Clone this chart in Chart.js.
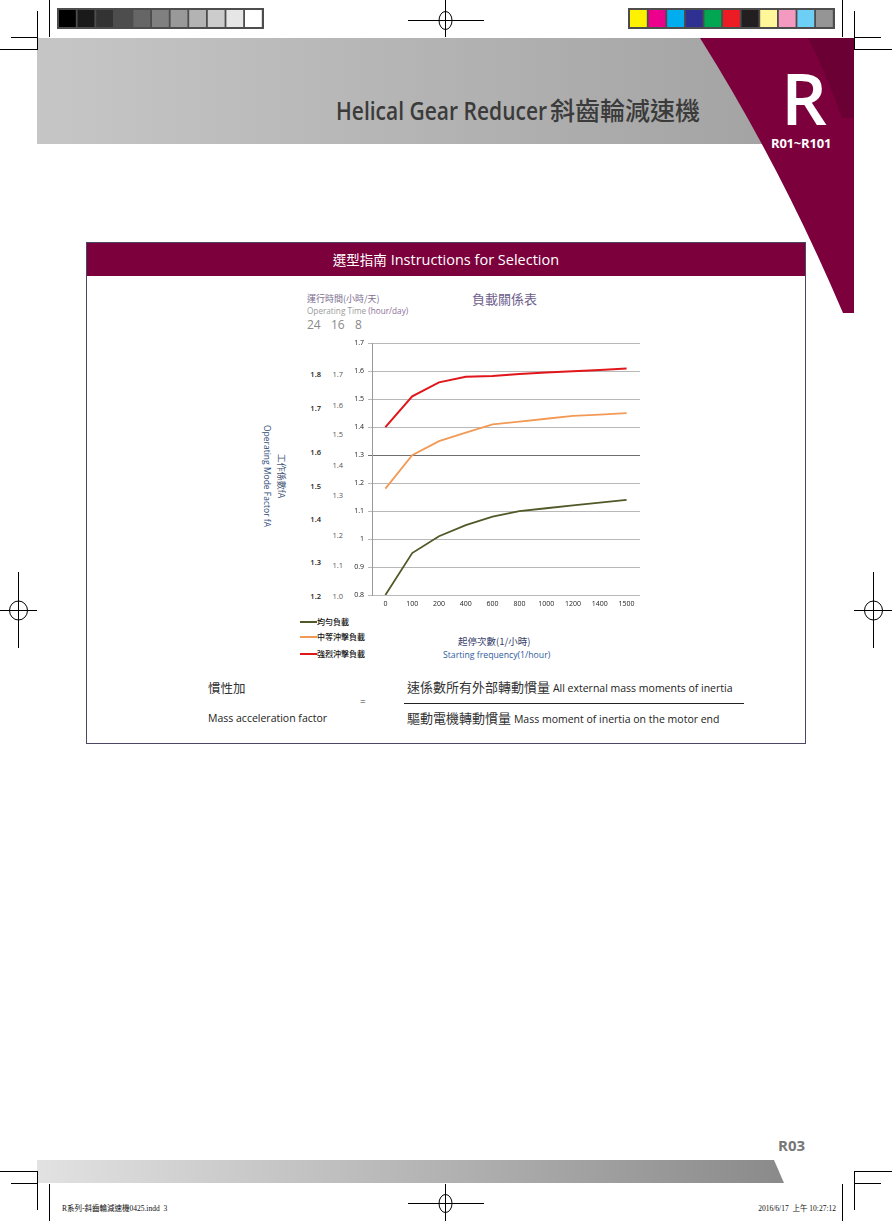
<!DOCTYPE html>
<html>
<head>
<meta charset="utf-8">
<script src="https://cdn.jsdelivr.net/npm/chart.js@4/dist/chart.umd.min.js"></script>
<style>
  @font-face{
    font-family:"BigR";
    src: local("Open Sans SemiBold"), local("OpenSans-SemiBold"), local("Open Sans"), local("OpenSans-Regular"), local("Open Sans Regular");
    font-weight: 600;
    ascent-override: 75%;
    descent-override: 0%;
    line-gap-override: 0%;
  }
  html,body{margin:0;padding:0;background:#fff;}
  #page{position:relative;width:892px;height:1221px;overflow:hidden;font-family:"Open Sans","Noto Sans CJK TC",sans-serif;}
  .t{position:absolute;white-space:nowrap;}
  svg{position:absolute;left:0;top:0;}
  #chartWrap{position:absolute;left:340px;top:335px;width:310px;height:280px;}
</style>
</head>
<body>
<div id="page">
<svg width="892" height="1221" viewBox="0 0 892 1221">
  <defs>
    <linearGradient id="hdr" x1="0" x2="1" y1="0" y2="0">
      <stop offset="0" stop-color="#c6c6c6"/>
      <stop offset="1" stop-color="#a2a2a2"/>
    </linearGradient>
    <linearGradient id="ftr" x1="0" x2="1" y1="0" y2="0">
      <stop offset="0" stop-color="#e2e2e2"/>
      <stop offset="1" stop-color="#8a8a8a"/>
    </linearGradient>
  </defs>
  <!-- header band -->
  <rect x="37" y="38" width="760" height="106" fill="url(#hdr)"/>
  <path d="M700,38 L854,38 L854,313 L843,313 Q780,165 700,38 Z" fill="#7b003c"/>
  <path d="M808,38 L854,38 L854,118 L842,118 Q826,72 808,38 Z" fill="#6a0033"/>
  <!-- footer band -->
  <path d="M37,1160 L774,1160 L784,1183 L37,1183 Z" fill="url(#ftr)"/>
  <!-- crop marks -->
  <g stroke="#000" stroke-width="1" fill="none">
    <line x1="37.5" y1="11" x2="37.5" y2="50"/><line x1="11" y1="37.5" x2="37" y2="37.5"/>
    <line x1="49.5" y1="0" x2="49.5" y2="37"/><line x1="0" y1="49.5" x2="37" y2="49.5"/>
    <line x1="854.5" y1="11" x2="854.5" y2="50"/><line x1="855" y1="37.5" x2="881" y2="37.5"/>
    <line x1="842.5" y1="0" x2="842.5" y2="37"/><line x1="855" y1="49.5" x2="892" y2="49.5"/>
    <line x1="37.5" y1="1171" x2="37.5" y2="1210"/><line x1="11" y1="1183.5" x2="37" y2="1183.5"/>
    <line x1="49.5" y1="1184" x2="49.5" y2="1221"/><line x1="0" y1="1171.5" x2="37" y2="1171.5"/>
    <line x1="854.5" y1="1171" x2="854.5" y2="1210"/><line x1="855" y1="1183.5" x2="881" y2="1183.5"/>
    <line x1="842.5" y1="1184" x2="842.5" y2="1221"/><line x1="855" y1="1171.5" x2="892" y2="1171.5"/>
    <!-- registration targets -->
    <line x1="408" y1="20.5" x2="484" y2="20.5"/><line x1="445.5" y1="0" x2="445.5" y2="37"/>
    <ellipse cx="445.5" cy="20.5" rx="6.5" ry="9"/>
    <line x1="408" y1="1203.5" x2="484" y2="1203.5"/><line x1="445.5" y1="1184" x2="445.5" y2="1221"/>
    <ellipse cx="445.5" cy="1203.5" rx="6.5" ry="9"/>
    <line x1="0" y1="610.5" x2="37" y2="610.5"/><line x1="18.5" y1="572" x2="18.5" y2="648"/>
    <ellipse cx="18.5" cy="610.5" rx="9" ry="9.5"/>
    <line x1="854" y1="610.5" x2="892" y2="610.5"/><line x1="873.5" y1="572" x2="873.5" y2="648"/>
    <ellipse cx="873.5" cy="610.5" rx="9" ry="9.5"/>
  </g>
  <!-- gray scale bar -->
  <rect x="57" y="8" width="207" height="21" fill="#4d4d4d"/>
  <g id="grays"></g>
  <rect x="628" y="8" width="207" height="21" fill="#4d4d4d"/>
  <g id="colors"></g>
  <!-- box -->
  <rect x="86.5" y="242.5" width="719" height="501" fill="#fff" stroke="#4d4766" stroke-width="1"/>
  <rect x="87" y="243" width="718" height="33" fill="#7b003c"/>
  <line x1="404" y1="703.5" x2="744" y2="703.5" stroke="#222" stroke-width="1"/>
</svg>

<!-- header texts -->
<div class="t" style="left:336px;top:94px;font-size:25px;line-height:30px;color:#3b3b3b;font-weight:600;">
  <span style="display:inline-block;transform:scaleX(0.84);transform-origin:left center;width:214px;">Helical Gear Reducer</span><span style="font-family:'Noto Sans CJK TC';font-weight:500;font-size:25px;">斜齒輪減速機</span>
</div>
<div class="t" style="left:781px;top:69px;font-size:72px;line-height:58px;color:#fff;font-weight:600;font-family:'BigR','Open Sans',sans-serif;">R</div>
<div class="t" style="left:771px;top:135px;font-size:13px;line-height:17px;color:#fff;font-weight:700;letter-spacing:-0.2px;">R01~R101</div>

<!-- box title -->
<div class="t" style="left:87px;width:718px;top:249px;text-align:center;font-size:14.5px;line-height:20px;color:#fff;"><span style="font-family:'Noto Sans CJK TC';font-size:13.5px;">選型指南</span> Instructions for Selection</div>

<!-- chart annotations -->
<div class="t" style="left:307px;top:292px;font-size:9px;line-height:14px;color:#7d6e8f;font-family:'Noto Sans CJK TC';">運行時間(小時/天)</div>
<div class="t" style="left:307px;top:305px;font-size:8.2px;line-height:12px;color:#9a9a9a;">Operating Time <span style="color:#8a6f98;">(hour/day)</span></div>
<div class="t" style="left:307px;top:317px;font-size:12px;line-height:16px;color:#8a8a8a;word-spacing:2px;">24&nbsp; 16&nbsp; 8</div>
<div class="t" style="left:472px;top:290px;font-size:13px;line-height:18px;color:#6d5e8c;font-family:'Noto Sans CJK TC';">負載關係表</div>

<div id="colA"></div>
<div id="colB"></div>

<div class="t" style="left:267px;top:476px;transform:translate(-50%,-50%) rotate(90deg);font-size:8.5px;line-height:11px;color:#2f4d7a;">Operating Mode Factor fA</div>
<div class="t" style="left:281px;top:476px;transform:translate(-50%,-50%) rotate(90deg);font-size:9px;line-height:11px;color:#4a5a7a;font-family:'Noto Sans CJK TC';">工作係數fA</div>

<div id="legend"></div>

<div class="t" style="left:458px;top:635px;font-size:9.5px;line-height:13px;color:#35406a;font-family:'Noto Sans CJK TC';">起停次數(1/小時)</div>
<div class="t" style="left:443px;top:649px;font-size:8.7px;line-height:12px;color:#2e5c9c;">Starting frequency(1/hour)</div>

<!-- formula -->
<div class="t" style="left:208px;top:679px;font-size:12.5px;line-height:18px;color:#333;font-family:'Noto Sans CJK TC';">慣性加</div>
<div class="t" style="left:208px;top:711px;font-size:10.5px;line-height:14px;color:#222;">Mass acceleration factor</div>
<div class="t" style="left:360px;top:694px;font-size:10px;line-height:14px;color:#333;">=</div>
<div class="t" style="left:407px;top:678px;font-size:13px;line-height:18px;color:#333;font-family:'Noto Sans CJK TC';">速係數所有外部轉動慣量 <span style="font-family:'Open Sans';font-size:10.5px;color:#222;">All external mass moments of inertia</span></div>
<div class="t" style="left:407px;top:709px;font-size:13px;line-height:18px;color:#333;font-family:'Noto Sans CJK TC';">驅動電機轉動慣量 <span style="font-family:'Open Sans';font-size:10.5px;color:#222;">Mass moment of inertia on the motor end</span></div>

<!-- footer -->
<div class="t" style="left:778px;top:1136px;font-size:15px;line-height:18px;color:#777;font-weight:700;">R03</div>
<div class="t" style="left:62px;top:1204px;font-size:7.5px;line-height:10px;color:#111;font-family:'Liberation Serif','Noto Sans CJK TC';">R系列-斜齒輪減速機0425.indd&nbsp;&nbsp;3</div>
<div class="t" style="right:56px;top:1204px;font-size:7.5px;line-height:10px;color:#111;font-family:'Liberation Serif','Noto Sans CJK TC';">2016/6/17&nbsp; 上午 10:27:12</div>

<div id="chartWrap"><canvas id="c" width="310" height="280"></canvas></div>
</div>

<script>
// ---------- data ----------
const frequencies = ['0','100','200','400','600','800','1000','1200','1400','1500'];
const uniformLoad   = [0.80, 0.95, 1.01, 1.05, 1.08, 1.10, 1.11, 1.12, 1.13, 1.14];
const moderateShock = [1.18, 1.30, 1.35, 1.38, 1.41, 1.42, 1.43, 1.44, 1.445, 1.45];
const heavyShock    = [1.40, 1.51, 1.56, 1.58, 1.583, 1.59, 1.595, 1.60, 1.604, 1.61];
const yTickLabels = ['0.8','0.9','1','1.1','1.2','1.3','1.4','1.5','1.6','1.7'];
const seriesNames = ['均勻負載','中等沖擊負載','強烈沖擊負載'];
const hours24Labels = ['1.8','1.7','1.6','1.5','1.4','1.3','1.2'];
const hours16Labels = ['1.7','1.6','1.5','1.4','1.3','1.2','1.1','1.0'];
const grayLevels = ['#000000','#1a1a1a','#333333','#4d4d4d','#666666','#808080','#999999','#b3b3b3','#cccccc','#e6e6e6','#ffffff'];
const processColors = ['#fff200','#ec008c','#00aeef','#2e3192','#00a651','#ed1c24','#231f20','#fff799','#f49ac1','#6dcff6','#959595'];

// ---------- layout (positions kept separately) ----------
const colAY = [374,408,452,486,519,562,596];
const colBY = [374,405,434,465,495,535,565,596];
const seriesColors = ['#4f5a28','#f29a55','#e0161b'];
const legendY = [622,637,654];

function fillBar(id, x0, cols){
  const g = document.getElementById(id);
  cols.forEach((c,i)=>{
    const r = document.createElementNS('http://www.w3.org/2000/svg','rect');
    r.setAttribute('x', x0 + 2 + i*18.6); r.setAttribute('y', 10);
    r.setAttribute('width', 16.8); r.setAttribute('height', 17);
    r.setAttribute('fill', c); g.appendChild(r);
  });
}
fillBar('grays', 57, grayLevels);
fillBar('colors', 628, processColors);

function addCol(id, labels, ys, right, color, weight){
  const el = document.getElementById(id);
  labels.forEach((s,i)=>{
    const d = document.createElement('div');
    d.className='t';
    d.style.cssText = `left:${right-20}px;width:20px;text-align:right;top:${ys[i]-5}px;font-size:7.5px;line-height:10px;color:${color};font-weight:${weight};`;
    d.textContent = s; el.appendChild(d);
  });
}
addCol('colA', hours24Labels, colAY, 321, '#222', 600);
addCol('colB', hours16Labels, colBY, 343, '#555', 400);

const lg = document.getElementById('legend');
seriesNames.forEach((n,i)=>{
  const l = document.createElement('div');
  l.style.cssText = `position:absolute;left:300px;top:${legendY[i]-1}px;width:17px;height:2px;background:${seriesColors[i]};`;
  lg.appendChild(l);
  const t = document.createElement('div');
  t.className='t';
  t.style.cssText = `left:317px;top:${legendY[i]-6}px;font-size:8px;line-height:12px;color:#111;font-family:'Noto Sans CJK TC';font-weight:500;`;
  t.textContent = n; lg.appendChild(t);
});

// ---------- chart ----------
new Chart(document.getElementById('c'), {
  type: 'line',
  data: {
    labels: frequencies,
    datasets: [
      {label: seriesNames[0], data: uniformLoad, borderColor: seriesColors[0], borderWidth: 1.8},
      {label: seriesNames[1], data: moderateShock, borderColor: seriesColors[1], borderWidth: 1.8},
      {label: seriesNames[2], data: heavyShock, borderColor: seriesColors[2], borderWidth: 2}
    ].map(d => Object.assign(d, {pointRadius: 0, tension: 0, fill: false}))
  },
  options: {
    responsive: false,
    animation: false,
    devicePixelRatio: 1,
    layout: {padding: {top: 8, right: 10, left: 0, bottom: 0}},
    plugins: {legend: {display: false}, tooltip: {enabled: false}},
    scales: {
      x: {
        offset: true,
        grid: {display: false, drawTicks: false, tickLength: 0},
        border: {display: false},
        ticks: {font: {family: 'Open Sans', size: 7}, color: '#222', padding: 5, maxRotation: 0, autoSkip: false},
        afterFit: s => { s.height = 20; }
      },
      y: {
        min: 0.8, max: 1.7,
        ticks: {stepSize: 0.1, font: {family: 'Open Sans', size: 7}, color: '#222', padding: 4,
                callback: (v, i) => yTickLabels[i]},
        grid: {
          color: ctx => (ctx.tick && Math.abs(ctx.tick.value - 1.3) < 1e-6) ? '#6e6e6e' : '#b8b8b8',
          lineWidth: 1, drawTicks: true, tickLength: 4
        },
        border: {display: true, color: '#999'},
        afterFit: s => { s.width = 32; }
      }
    }
  }
});
</script>
</body>
</html>
